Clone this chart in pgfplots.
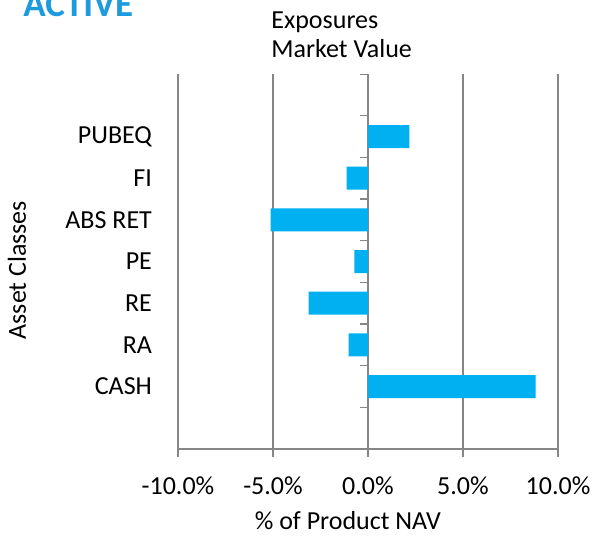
\documentclass[border=0pt]{standalone}
\usepackage{fontspec}
\setmainfont{Carlito}
\usepackage{pgfplots}
\pgfplotsset{compat=1.18}
\definecolor{barblue}{RGB}{0,176,240}
\definecolor{titleblue}{RGB}{28,155,222}
\definecolor{gridgray}{RGB}{134,134,134}
\begin{document}
\fontsize{13}{16}\selectfont
\begin{tikzpicture}
  % page frame, in pt from the plot's lower left corner (1px = 0.5pt)
  \path[use as bounding box] (-89pt,-43.5pt) rectangle (208.5pt,224.5pt);
  \begin{axis}[
      at={(0,0)}, anchor=south west,
      scale only axis, width=190pt, height=187.5pt,
      xbar, bar width=11.5pt, bar shift=0pt,
      xmin=-10, xmax=10, ymin=0, ymax=9,
      axis x line*=bottom, axis y line*=left,
      x axis line style={-, gridgray, line width=0.8pt},
      y axis line style={draw=none},
      xtick={-10,-5,0,5,10},
      xticklabels={-10.0\%,-5.0\%,0.0\%,5.0\%,10.0\%},
      tick align=outside, major tick length=4pt,
      x tick style={gridgray, line width=0.8pt},
      xmajorgrids, grid style={gridgray, line width=0.8pt},
      xticklabel style={yshift=-5.5pt},
      ytick={1.5,2.5,3.5,4.5,5.5,6.5,7.5},
      yticklabels={CASH,RA,RE,PE,ABS RET,FI,PUBEQ},
      y tick style={draw=none},
      yticklabel style={xshift=-4.5pt},
      xlabel={\% of Product NAV},
      xlabel style={at={(axis description cs:0.447,0)}, anchor=base, yshift=-40.5pt},
      ylabel={Asset Classes},
      ylabel style={at={(axis description cs:-0.40,0.477)}, anchor=base, rotate=0},
    ]
    \addplot[fill=barblue, draw=none] coordinates {
      (8.82,1.5) (-1.02,2.5) (-3.13,3.5) (-0.72,4.5)
      (-5.13,5.5) (-1.12,6.5) (2.18,7.5)};
    % small ticks along the zero line between categories
    \pgfplotsinvokeforeach{1,...,9}{
      \draw[gridgray, line width=0.8pt] (axis cs:-0.42,#1) -- (axis cs:0,#1);
    }
  \end{axis}
  \node[anchor=base west, inner sep=0pt] at (46.5pt,210pt) {Exposures};
  \node[anchor=base west, inner sep=0pt] at (46.5pt,195.5pt) {Market Value};
  \node[anchor=base west, inner sep=0pt, text=titleblue,
        font=\fontsize{18.5}{20}\selectfont\bfseries] at (-77.5pt,216pt) {ACTIVE};
\end{tikzpicture}
\end{document}
